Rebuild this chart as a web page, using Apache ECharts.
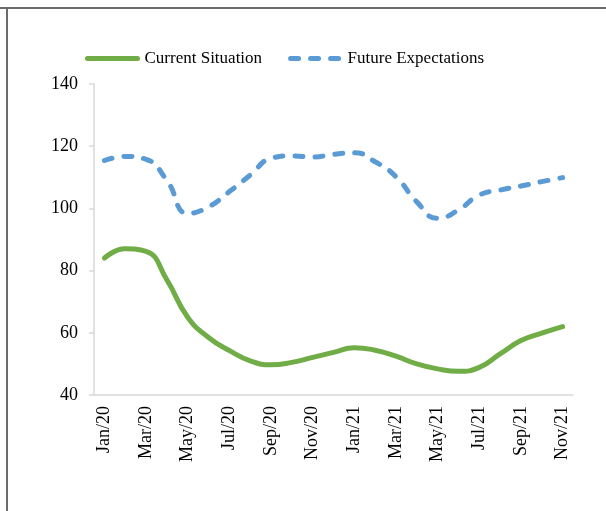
<!DOCTYPE html>
<html>
<head>
<meta charset="utf-8">
<script src="https://cdn.jsdelivr.net/npm/echarts@6/dist/echarts.min.js"></script>
<style>
  html, body { margin: 0; padding: 0; background: #fff; }
  #chart { width: 606px; height: 511px; }
  .frame-top { position: absolute; left: 0; top: 7px; width: 606px; height: 2px; background: #6b6b6b; }
  .frame-left { position: absolute; left: 6px; top: 7px; width: 2px; height: 504px; background: #6b6b6b; }
</style>
</head>
<body>
<div id="chart"></div>
<div class="frame-top"></div>
<div class="frame-left"></div>
<script>
// months, one point per month
const months = ['Jan/20', 'Feb/20', 'Mar/20', 'Apr/20', 'May/20', 'Jun/20', 'Jul/20', 'Aug/20', 'Sep/20', 'Oct/20', 'Nov/20', 'Dec/20',
  'Jan/21', 'Feb/21', 'Mar/21', 'Apr/21', 'May/21', 'Jun/21', 'Jul/21', 'Aug/21', 'Sep/21', 'Oct/21', 'Nov/21']
const currentSituation = [84, 87, 86.2, 77, 65, 58.5, 54.3, 51, 49.7, 50.5, 52.1, 53.7,
  55.2, 54.4, 52.5, 50, 48.4, 47.6, 48.9, 53.2, 57.5, 59.9, 62]
const futureExpectations = [115.4, 116.7, 115.8, 109, 98.4, 100.5, 105.4, 110.7, 116.1, 116.9, 116.5, 117.4,
  117.9, 115, 110.2, 102.1, 96.8, 99.5, 104.3, 105.9, 107.2, 108.6, 109.9]
const yTicks = { min: 40, max: 140, step: 20 }

const serif = 'Liberation Serif'
let myChart = echarts.init(document.getElementById('chart'))
myChart.setOption({
  animation: false,
  legend: {
    left: 80,
    top: 45,
    itemWidth: 50,
    itemHeight: 14,
    itemGap: 26,
    itemStyle: { opacity: 0 },
    lineStyle: { width: 5, cap: 'round' },
    textStyle: { fontFamily: serif, fontSize: 17, color: '#000', padding: [0, 0, 0, 2] },
    data: ['Current Situation', 'Future Expectations']
  },
  grid: { left: 94, right: 33, top: 84, bottom: 116 },
  xAxis: {
    type: 'category',
    data: months,
    boundaryGap: true,
    axisLine: { lineStyle: { color: '#d9d9d9', width: 1.5 } },
    axisTick: { interval: 1, length: 4, lineStyle: { color: '#d9d9d9', width: 1.5 } },
    axisLabel: {
      interval: 1,
      rotate: 90,
      margin: 11,
      fontFamily: serif,
      fontSize: 18,
      color: '#000'
    },
    splitLine: { show: false }
  },
  yAxis: {
    type: 'value',
    min: yTicks.min,
    max: yTicks.max,
    interval: yTicks.step,
    axisLine: { show: true, lineStyle: { color: '#d9d9d9', width: 1.5 } },
    axisTick: { show: true, length: 5, lineStyle: { color: '#d9d9d9', width: 1.5 } },
    axisLabel: { margin: 16, fontFamily: serif, fontSize: 18, color: '#000' },
    splitLine: { show: false }
  },
  series: [
    {
      name: 'Current Situation',
      type: 'line',
      data: currentSituation,
      smooth: 0.5,
      symbol: 'none',
      color: '#70ad47',
      lineStyle: { width: 5, color: '#70ad47', cap: 'round' }
    },
    {
      name: 'Future Expectations',
      type: 'line',
      data: futureExpectations,
      smooth: 0.5,
      symbol: 'none',
      color: '#5b9bd5',
      lineStyle: { width: 5, color: '#5b9bd5', type: [8, 12], cap: 'round' }
    }
  ]
})
</script>
</body>
</html>
